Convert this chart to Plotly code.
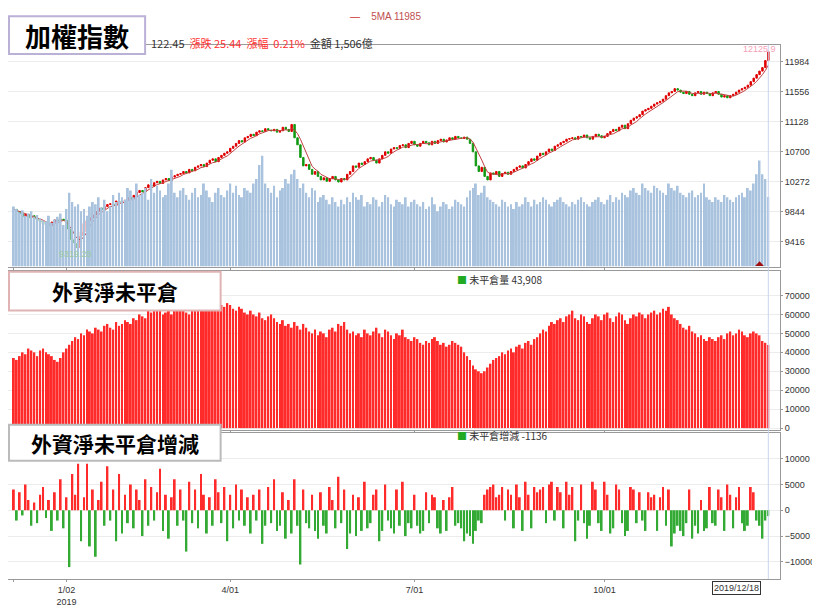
import plotly.graph_objects as go
import pandas as pd

close = [9880,9850,9820,9780,9810,9760,9790,9740,9720,9700,9680,9660,9650,9700,9730,9720,9740,9727,
 9600,9450,9400,9330,9500,9560,9680,9720,9760,9800,9850,9900,9880,9920,9950,9960,9930,10000,9980,9990,
 10010,10050,10030,10080,10120,10150,10130,10190,10230,10210,10260,10280,10250,10300,10320,10290,10340,10360,
 10380,10390,10420,10400,10450,10430,10480,10500,10520,10490,10540,10580,10600,10560,10620,10650,10680,10700,
 10750,10780,10820,10860,10840,10900,10920,10950,10930,10980,11000,10990,11030,11010,11000,11020,10980,11000,11050,11020,10990,11090,
 10900,10800,10620,10500,10520,10450,10380,10420,10350,10300,10330,10280,10320,10350,10300,10270,10320,10300,
 10380,10420,10500,10480,10540,10520,10560,10600,10620,10580,10540,10600,10650,10700,10680,10740,10760,10750,
 10790,10800,10760,10820,10850,10800,10780,10820,10850,10830,10800,10850,10820,10860,10880,10840,10870,10900,10880,10920,10900,10890,10910,10880,
 10820,10700,10500,10420,10480,10350,10300,10400,10380,10420,10350,10390,10410,10380,
 10420,10450,10480,10500,10470,10520,10560,10600,10580,10640,10680,10660,10700,10740,10720,10780,10800,10830,10850,10880,10890,
 10900,10880,10920,10910,10940,10900,10880,10920,10950,10930,10900,10920,10960,10990,11020,11000,11050,11080,11030,11100,11150,11180,11200,11230,11280,
 11300,11320,11350,11380,11400,11420,11450,11500,11540,11560,11600,11580,11550,11530,11560,11520,11500,11540,11560,11520,11550,11530,11500,11540,11560,
 11520,11480,11500,11470,11500,11520,11550,11580,11600,11620,11650,11700,11750,11800,11850,11900,12000,12122.45]

volume = [1300,1250,1180,1220,1100,1150,1200,1080,1120,1050,1000,980,1100,950,1020,1080,1150,900,1250,1600,
 1400,1300,1350,1200,1250,1100,1300,1400,1350,1500,1280,1450,1200,1300,1550,1400,1600,1500,1450,1700,
 1650,1500,1800,1550,1600,1700,1450,1900,1600,1750,1650,1500,1550,1800,2100,1600,1500,1650,1700,1550,
 1450,1600,1700,1500,1550,1800,1650,1500,1400,1600,1700,1550,1500,1650,1800,1600,1750,1550,1500,1700,
 1650,1600,1800,1900,2200,2400,1800,1700,1600,1750,1500,1650,1700,1900,1800,2000,2100,1900,1700,1800,
 1600,1500,1700,1650,1400,1500,1550,1450,1350,1500,1400,1300,1450,1350,1500,1400,1600,1500,1450,1550,
 1300,1400,1350,1500,1450,1300,1400,1550,1500,1350,1300,1450,1400,1350,1500,1300,1400,1450,1350,1300,
 1400,1250,1300,1500,1350,1200,1300,1400,1350,1250,1300,1450,1400,1350,1300,1500,1650,1700,1800,1550,
 1600,1750,1500,1450,1400,1350,1300,1450,1400,1300,1350,1250,1400,1300,1350,1500,1400,1300,1450,1350,
 1400,1500,1450,1350,1300,1400,1450,1500,1400,1350,1300,1400,1350,1450,1500,1400,1350,1300,1400,1450,
 1500,1400,1350,1450,1550,1400,1500,1450,1600,1550,1500,1650,1700,1600,1550,1800,1700,1650,1600,1750,
 1700,1650,1600,1550,1800,1700,1650,1750,1600,1550,1500,1600,1650,1500,1550,1600,1800,1500,1450,1400,
 1500,1450,1400,1550,1500,1450,1400,1500,1550,1600,1500,1700,1650,1800,2000,2300,2000,1900,1506]

oi_k = [37,36,38,40,39,42,41,40,38,41,42,40,39,38,36,35,37,40,42,44,
 46,48,47,50,49,52,51,50,53,52,51,54,55,53,52,56,54,55,57,56,
 55,58,57,60,59,58,62,61,63,64,62,60,61,63,60,62,64,63,62,61,
 60,62,64,63,65,66,64,63,65,66,67,65,64,66,65,63,62,64,63,61,
 60,62,60,59,61,58,57,59,60,58,56,55,57,54,55,53,56,54,52,55,
 53,51,50,52,49,51,50,48,52,53,51,55,54,56,52,50,51,49,50,48,
 52,50,49,51,53,50,48,52,51,49,47,50,49,52,48,47,46,48,47,45,
 44,46,45,47,48,46,44,45,43,44,46,45,44,43,40,38,36,33,31,30,
 29,30,32,34,36,37,38,40,39,41,42,40,43,44,42,45,46,44,47,48,
 50,52,51,54,56,55,57,58,56,59,60,62,58,57,60,59,56,55,58,60,
 59,57,60,61,58,56,59,61,60,57,55,58,60,59,61,60,58,60,61,62,
 60,61,63,62,64,60,58,57,55,53,52,54,51,50,48,49,47,46,48,47,
 46,48,49,47,50,51,49,50,52,51,49,48,50,51,50,49,46,45.044,43.908]

chg_h = [40,-20,35,-10,50,20,-30,15,-25,30,45,-15,20,-40,35,-20,60,-35,25,-110,
 70,30,90,-60,25,90,-70,40,-90,20,55,-30,85,-20,40,-60,70,-45,30,-25,
 50,-35,40,20,-50,60,-30,45,-20,35,80,-40,30,-55,25,60,-30,40,-20,-80,
 55,-25,40,-35,70,30,-45,25,-30,60,35,-25,45,-60,30,-35,50,-20,40,-30,
 25,-45,30,-20,40,-65,-30,45,-25,60,-40,-30,35,-55,20,-45,60,-30,-105,40,
 -25,-35,30,-40,-55,35,-30,-45,45,20,-35,65,-25,40,-75,-45,30,-50,25,-40,
 55,-35,-25,30,40,-60,-40,50,-20,-35,-45,40,-30,55,-50,-25,-35,30,-30,-45,
 -40,35,-25,30,25,-35,-45,20,-40,25,45,-30,-25,-35,-60,-45,-50,-65,-40,-20,
 -25,30,40,45,50,25,30,45,-20,40,30,-35,50,25,-40,55,30,-35,45,35,
 40,45,-25,50,55,-20,45,35,-35,55,30,45,-60,-20,50,-25,-55,-30,55,40,
 -25,-40,55,30,-45,-35,50,40,-25,-50,-40,45,40,-25,35,-20,-40,35,25,30,
 -40,25,45,-30,40,-70,-45,-30,-40,-50,-25,40,-55,-30,-45,20,-40,-35,45,-25,
 -30,40,25,-40,50,30,-35,25,45,-25,-40,-30,45,35,-20,-30,-55,-20,-11.36]

tick_idx = [0, 18, 74, 137, 202]
tick_txt = ["12/07<br>2018", "1/02<br>2019", "4/01", "7/01", "10/01"]
price_ticks = [9416, 9844, 10272, 10700, 11128, 11556, 11984]

n = len(close)
x = list(range(n))
opn = [close[0]] + close[:-1]
hi = [max(a, b) for a, b in zip(opn, close)]
lo = [min(a, b) for a, b in zip(opn, close)]
ma5 = pd.Series(close).rolling(5, min_periods=1).mean().tolist()
oi = [v * 1000 for v in oi_k]
chg = [v * 100 for v in chg_h]

RED, GREEN = "#ff2a2a", "#33aa33"
fig = go.Figure()
fig.add_trace(go.Bar(x=x, y=volume, marker_color="#a9c3df", marker_line_width=0, xaxis="x", yaxis="y2"))
fig.add_trace(go.Candlestick(x=x, open=opn, high=hi, low=lo, close=close, xaxis="x", yaxis="y",
    increasing=dict(line=dict(color="#e00000", width=1), fillcolor="#e00000"),
    decreasing=dict(line=dict(color="#119911", width=1), fillcolor="#119911"), whiskerwidth=0))
fig.add_trace(go.Scatter(x=x, y=ma5, mode="lines", line=dict(color="#c04040", width=1), xaxis="x", yaxis="y"))
fig.add_trace(go.Bar(x=x, y=oi, marker_color=RED, marker_line_width=0, xaxis="x2", yaxis="y3"))
fig.add_trace(go.Bar(x=x, y=chg, marker_color=[RED if v >= 0 else GREEN for v in chg],
                     marker_line_width=0, xaxis="x3", yaxis="y4"))

grid = "#ececec"
xcommon = dict(range=[-2, n + 3], showgrid=False, zeroline=False, showline=True, linecolor="#999",
               mirror=True, tickvals=tick_idx, ticktext=tick_txt, tickfont=dict(size=9, color="#333"),
               automargin=False, ticks="outside", ticklen=2, tickcolor="#999")
ycommon = dict(side="right", showgrid=True, gridcolor=grid, zeroline=False, showline=True, linecolor="#999",
               mirror=True, tickfont=dict(size=9, color="#333"), ticks="outside", ticklen=2, tickcolor="#999",
               tickformat="d", automargin=False)
fig.update_layout(
    width=804, height=597, margin=dict(l=0, r=32, t=37, b=26, autoexpand=False),
    paper_bgcolor="white", plot_bgcolor="white", showlegend=False, bargap=0.35,
    font=dict(family="Liberation Sans"),
    xaxis=dict(**{**xcommon, "showticklabels": False}, domain=[0, 1], anchor="y", rangeslider=dict(visible=False)),
    xaxis2=dict(**{**xcommon, "showticklabels": False}, matches="x", anchor="y3"),
    xaxis3=dict(**xcommon, matches="x", anchor="y4"),
    yaxis=dict(**ycommon, domain=[0.585, 1], range=[9065, 12222], tickvals=price_ticks),
    yaxis2=dict(domain=[0.585, 1], range=[0, 4800], overlaying="y", visible=False),
    yaxis3=dict(**ycommon, domain=[0.279, 0.577], range=[-1000, 83000], tickvals=list(range(0, 70001, 10000))),
    yaxis4=dict(**ycommon, domain=[0, 0.274], range=[-13300, 15000], tickvals=[-10000, -5000, 0, 5000, 10000]),
)

W, H = 777.0, 537.0
px = lambda p: (p - 8) / W
py = lambda p: (582 - p) / H

def title_box(text, x0, x1, y0, y1, border, size):
    fig.add_shape(type="rect", xref="paper", yref="paper", x0=px(x0), x1=px(x1), y0=py(y1), y1=py(y0),
                  line=dict(color=border, width=2), fillcolor="white", layer="above")
    fig.add_annotation(xref="paper", yref="paper", x=px((x0 + x1) / 2), y=py((y0 + y1) / 2),
                       xanchor="center", yanchor="middle", text=f"<b>{text}</b>",
                       showarrow=False, font=dict(family="Noto Sans CJK TC", size=size, color="black"))

title_box("加權指數", 9, 146, 16, 54, "#bbb0d6", 26)
title_box("外資淨未平倉", 9, 222, 273, 312, "#e0b4b4", 21)
title_box("外資淨未平倉增減", 9, 222, 427, 463, "#bbb", 21)

fig.add_annotation(xref="paper", yref="paper", x=px(150), y=py(43), xanchor="left", yanchor="middle", showarrow=False,
    text="122.45  <span style='color:#ff3030'>漲跌 25.44  漲幅  0.21%</span>  金額 1,506億",
    font=dict(size=11, color="#333", family="Noto Sans CJK TC"))
fig.add_annotation(xref="paper", yref="paper", x=px(350), y=py(16), xanchor="left", yanchor="middle", showarrow=False,
    text="<span style='color:#d03030'>—</span>    <span style='color:#c05050'>5MA 11985</span>", font=dict(size=10))
fig.add_annotation(x=n - 4, y=12160, xref="x", yref="y", text="12125.9", showarrow=False,
                   font=dict(size=9, color="#f5a0b8"))
fig.add_annotation(x=21, y=9240, xref="x", yref="y", text="9319.28", showarrow=False,
                   font=dict(size=9, color="#9cc9a0"))
fig.add_annotation(xref="paper", yref="paper", x=px(458), y=py(281), xanchor="left", yanchor="middle", showarrow=False,
                   text="<span style='color:#2a2'>■</span> 未平倉量 43,908", font=dict(size=10, color="#333", family="Noto Sans CJK TC"))
fig.add_annotation(xref="paper", yref="paper", x=px(458), y=py(438), xanchor="left", yanchor="middle", showarrow=False,
                   text="<span style='color:#2a2'>■</span> 未平倉增減 -1136", font=dict(size=10, color="#333", family="Noto Sans CJK TC"))
fig.add_annotation(xref="paper", yref="paper", x=px(766), y=-0.003, yanchor="top", showarrow=False,
                   text="2019/12/18", font=dict(size=9, color="#333"), bordercolor="#333", borderwidth=1,
                   bgcolor="white", borderpad=1)
fig.add_shape(type="line", xref="x", yref="paper", x0=n - 1, x1=n - 1, y0=0, y1=1,
              line=dict(color="#c8d4ee", width=1))
fig.add_shape(type="path", xref="x", yref="y", path=f"M {n-5.5} 9075 L {n-2.5} 9075 L {n-4} 9140 Z",
              fillcolor="#a01010", line_width=0)

fig.write_html("out.html")
